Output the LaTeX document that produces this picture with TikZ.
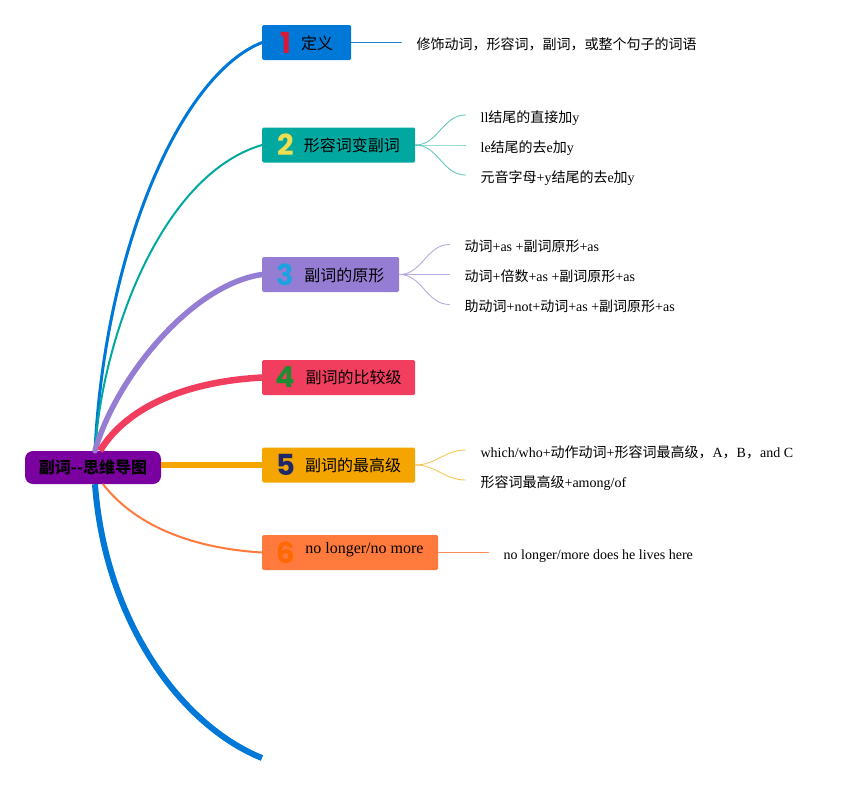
\documentclass[tikz,border=0pt]{standalone}
\usepackage{fontspec}
\setmainfont{Liberation Serif}
\newfontfamily\cjk{Noto Sans CJK SC}
\newfontfamily\numfont{Poppins}
\usetikzlibrary{positioning}
\definecolor{rootcol}{RGB}{123,0,160}
\definecolor{boxa}{RGB}{0,120,215}
\definecolor{boxb}{RGB}{0,168,160}
\definecolor{boxc}{RGB}{150,125,212}
\definecolor{boxd}{RGB}{242,62,94}
\definecolor{boxe}{RGB}{245,165,0}
\definecolor{boxf}{RGB}{255,122,60}
\definecolor{numa}{RGB}{215,25,55}
\definecolor{numb}{RGB}{240,222,80}
\definecolor{numc}{RGB}{30,160,225}
\definecolor{numd}{RGB}{30,140,50}
\definecolor{nume}{RGB}{30,40,105}
\definecolor{numf}{RGB}{255,105,0}
\definecolor{twiga}{RGB}{30,130,210}
\definecolor{twigb}{RGB}{100,200,190}
\definecolor{twigc}{RGB}{185,170,228}
\definecolor{twige}{RGB}{245,200,90}
\definecolor{twigf}{RGB}{250,140,90}
\newcommand\bignum[2]{\raisebox{-4pt}{\numfont\bfseries\fontsize{29}{29}\selectfont\color{#1}#2}\hspace{10pt}}
\tikzset{
	topic/.style={rectangle, rounded corners=1.5pt, anchor=west, minimum height=35pt, inner xsep=0pt, inner ysep=1pt, text=black, font=\fontsize{16}{18}\selectfont\cjk},
	leaf/.style={anchor=west, inner xsep=15pt, inner ysep=2pt, text height=14pt, text depth=0pt, text=black, font=\fontsize{14}{16}\selectfont},
	twig/.style={line width=0.9pt},
}
\begin{document}
\begin{tikzpicture}[x=1pt, y=-1pt, line join=round, line cap=round]
	\useasboundingbox (0,0) rectangle (853,785);
	\node[fill=rootcol, rounded corners=8pt, minimum width=136pt, minimum height=33pt, inner sep=0pt, font=\fontsize{16}{18}\selectfont\cjk\bfseries] (root) at (93,467.5) {副词\mbox{-}\mbox{-}思维导图};
	% main topics
	\node[topic, fill=boxa, minimum width=89pt] (b1) at (262,42.5) {\bignum{numa}{1}定义};
	\node[topic, fill=boxb, minimum width=153pt] (b2) at (262,145) {\bignum{numb}{2}形容词变副词};
	\node[topic, fill=boxc, minimum width=137pt] (b3) at (262,274.5) {\bignum{numc}{3}副词的原形};
	\node[topic, fill=boxd, minimum width=153pt] (b4) at (262,377.5) {\bignum{numd}{4}副词的比较级};
	\node[topic, fill=boxe, minimum width=153pt] (b5) at (262,465) {\bignum{nume}{5}副词的最高级};
	\node[topic, fill=boxf, minimum width=176pt] (b6) at (262,552.5) {\bignum{numf}{6}\raisebox{6pt}{\rmfamily no longer/no more}};
	\path
	([xshift=2pt]root.north)coordinate(rn)
	([xshift=2pt]root.south)coordinate(rs)
	([xshift=10pt]root.south)coordinate(rs2)
	(262,758)coordinate(end)
	;
	% branches from the root
	\draw[boxa, line width=3pt] (rn) .. controls (105,250) and (180,75) .. (b1.west);
	\draw[boxb, line width=2pt] (rn) .. controls (102,340) and (160,175) .. (b2.west);
	\draw[boxc, line width=5.5pt] (rn) .. controls (115,380) and (190,285) .. (b3.west);
	\draw[boxd, line width=6.5pt, line cap=butt] ([xshift=5pt]rn) .. controls (125,410) and (180,382) .. (b4.west);
	\draw[boxe, line width=6pt, line cap=butt] (root.east|-b5.west) -- (b5.west);
	\draw[boxf, line width=2pt] (rs2) .. controls (135,525) and (190,548) .. (b6.west);
	\draw[boxa, line width=6pt, line cap=butt] (rs) .. controls (105,620) and (180,725) .. (end);
	% leaves
	\node[leaf, right=50pt of b1] (c11) {{\cjk 修饰动词，形容词，副词，或整个句子的词语}};
	\node[leaf, right=50pt of b2] (c22) {le{\cjk 结尾的去}e{\cjk 加}y};
	\node[leaf] (c21) at ([xshift=50pt,yshift=30pt]b2.east) {ll{\cjk 结尾的直接加}y};
	\node[leaf] (c23) at ([xshift=50pt,yshift=-30pt]b2.east) {{\cjk 元音字母}+y{\cjk 结尾的去}e{\cjk 加}y};
	\node[leaf, right=50pt of b3] (c32) {{\cjk 动词}+{\cjk 倍数}+as +{\cjk 副词原形}+as};
	\node[leaf] (c31) at ([xshift=50pt,yshift=30pt]b3.east) {{\cjk 动词}+as +{\cjk 副词原形}+as};
	\node[leaf] (c33) at ([xshift=50pt,yshift=-30pt]b3.east) {{\cjk 助动词}+not+{\cjk 动词}+as +{\cjk 副词原形}+as};
	\node[leaf] (c51) at ([xshift=50pt,yshift=15pt]b5.east) {which/who+{\cjk 动作动词}+{\cjk 形容词最高级，}A{\cjk ，}B{\cjk ，}and C};
	\node[leaf] (c52) at ([xshift=50pt,yshift=-15pt]b5.east) {{\cjk 形容词最高级}+among/of};
	\node[leaf, right=50pt of b6] (c61) {no longer/more does he lives here};
	\draw[twiga, twig] (b1.east) -- (c11.west);
	\foreach \c in {c21,c22,c23} \draw[twigb, twig] (b2.east) to[out=0,in=180] (\c.west);
	\foreach \c in {c31,c32,c33} \draw[twigc, twig] (b3.east) to[out=0,in=180] (\c.west);
	\foreach \c in {c51,c52} \draw[twige, twig] (b5.east) to[out=0,in=180] (\c.west);
	\draw[twigf, twig] (b6.east) -- (c61.west);
\end{tikzpicture}
\end{document}
